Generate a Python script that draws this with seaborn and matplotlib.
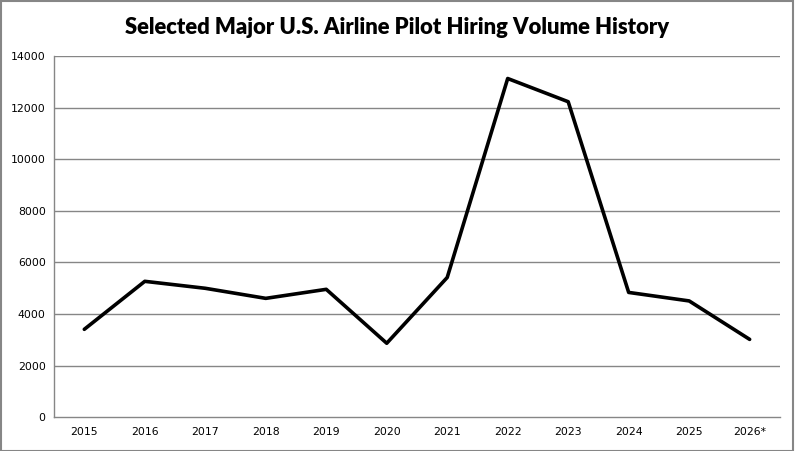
import numpy as np
import pandas as pd
import seaborn as sns
import matplotlib.pyplot as plt
from matplotlib.patches import Rectangle

years = ['2015', '2016', '2017', '2018', '2019', '2020',
         '2021', '2022', '2023', '2024', '2025', '2026*']
hires = [3410, 5270, 5000, 4610, 4960, 2870,
         5420, 13130, 12230, 4840, 4510, 3020]
y_ticks = [0, 2000, 4000, 6000, 8000, 10000, 12000, 14000]

sns.set_style('white')
plt.rcParams['font.family'] = ['DejaVu Sans']
plt.rcParams['text.color'] = 'black'
plt.rcParams['xtick.color'] = 'black'
plt.rcParams['ytick.color'] = 'black'

df = pd.DataFrame({'pos': np.arange(len(years)), 'hires': hires})

fig = plt.figure(figsize=(7.95, 4.51), dpi=100)
ax = fig.add_axes([0.068, 0.0747, 0.913, 0.801])

grid_col = '#868686'
for t in y_ticks[1:]:
    ax.axhline(t, color=grid_col, lw=1, zorder=0)

sns.lineplot(data=df, x='pos', y='hires', color='black', linewidth=2.6, ax=ax)

ax.set_xlim(-0.5, len(years) - 0.5)
ax.set_ylim(0, 14000)
ax.set_yticks(y_ticks)
ax.set_yticklabels([str(t) for t in y_ticks], fontsize=7.8)
ax.set_xticks(np.arange(-0.5, len(years)))
ax.set_xticklabels([])
ax.set_xticks(np.arange(len(years)), minor=True)
ax.set_xticklabels(years, minor=True, fontsize=7.8)
ax.tick_params(axis='x', which='major', length=5, color=grid_col, direction='out')
ax.tick_params(axis='x', which='minor', length=0, pad=7)
ax.tick_params(axis='y', length=4, color=grid_col, labelcolor='black', direction='out', pad=2)
ax.set_xlabel('')
ax.set_ylabel('')

for side in ['top', 'right']:
    ax.spines[side].set_visible(False)
for side in ['left', 'bottom']:
    ax.spines[side].set_color(grid_col)
    ax.spines[side].set_linewidth(1)

fig.text(0.5, 0.94, 'Selected Major U.S. Airline Pilot Hiring Volume History',
         ha='center', va='center', fontsize=15.8, fontweight='heavy', color='black',
         family=['Lato', 'DejaVu Sans'])

fig.patches.append(Rectangle((0.001, 0.001), 0.997, 0.997, transform=fig.transFigure,
                             fill=False, edgecolor=grid_col, lw=1.5))

fig.savefig('out.png', dpi=100)
